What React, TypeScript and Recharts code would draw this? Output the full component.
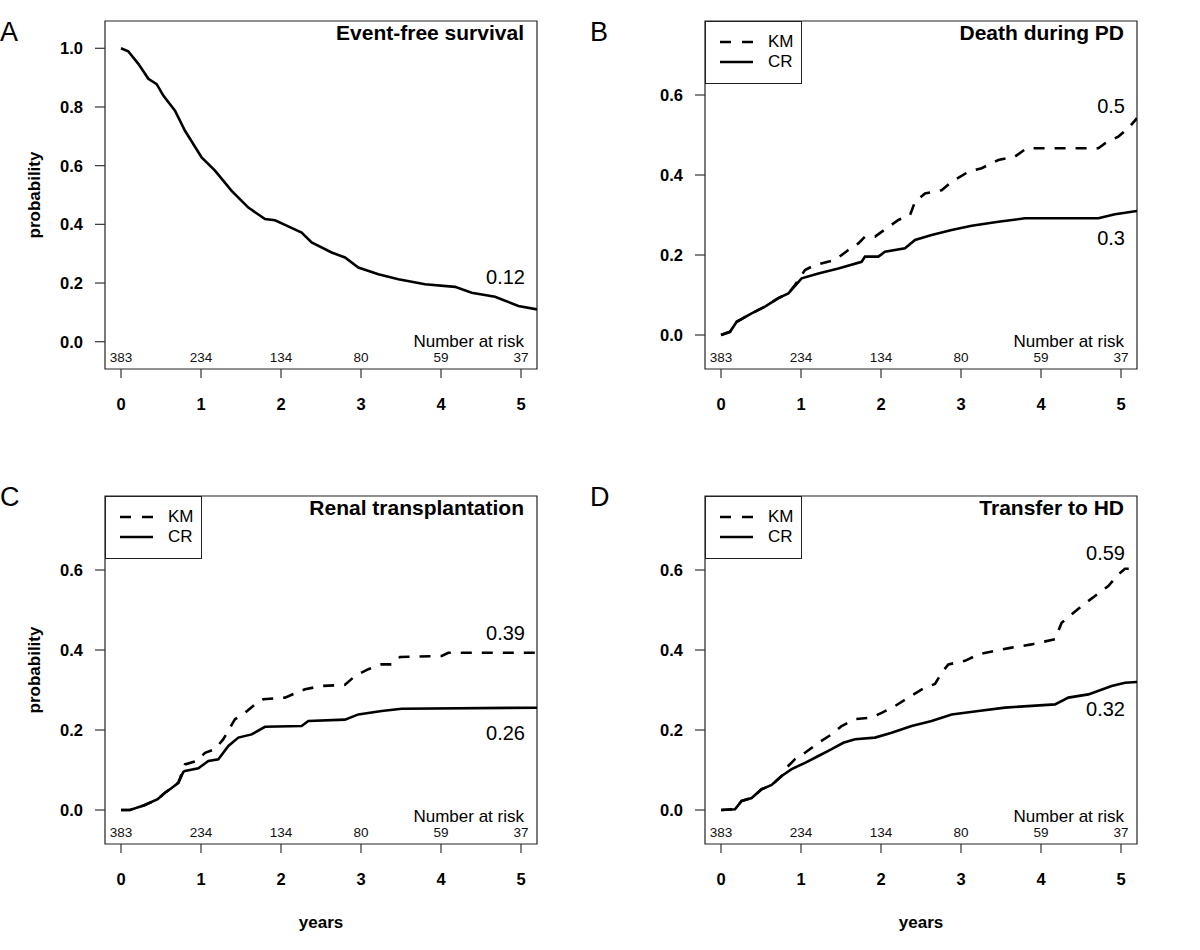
import React from "react";
import {
  LineChart,
  Line,
  XAxis,
  YAxis,
  ReferenceArea,
  ReferenceDot,
  Legend,
} from "recharts";

type Pt = [number, number];

// shared axis values
const YEARS = [0, 1, 2, 3, 4, 5];
const AT_RISK = [383, 234, 134, 80, 59, 37];
const PROB_TICKS = [0, 0.2, 0.4, 0.6, 0.8, 1.0];
const CIF_TICKS = [0, 0.2, 0.4, 0.6];

// A: event-free survival
const EFS: Pt[] = [
  [0, 1.0], [0.09, 0.99], [0.217, 0.947], [0.342, 0.896], [0.446, 0.878],
  [0.529, 0.839], [0.675, 0.787], [0.8, 0.719], [1.008, 0.628], [1.175, 0.583],
  [1.383, 0.514], [1.592, 0.457], [1.8, 0.418], [1.925, 0.414], [2.05, 0.398],
  [2.258, 0.372], [2.383, 0.338], [2.633, 0.304], [2.8, 0.287], [2.967, 0.253],
  [3.217, 0.23], [3.467, 0.213], [3.8, 0.196], [4.175, 0.187], [4.383, 0.167],
  [4.675, 0.153], [4.967, 0.122], [5.2, 0.11],
];

// B: death during PD
const DEATH_KM: Pt[] = [
  [0, 0], [0.113, 0.008], [0.196, 0.033], [0.383, 0.054], [0.55, 0.071],
  [0.717, 0.092], [0.842, 0.104], [0.925, 0.125], [1.05, 0.1625], [1.175, 0.175],
  [1.425, 0.1875], [1.592, 0.2125], [1.717, 0.229], [1.8, 0.246], [1.925, 0.246],
  [2.07, 0.267], [2.217, 0.2875], [2.363, 0.3], [2.425, 0.333], [2.55, 0.354],
  [2.758, 0.362], [2.883, 0.383], [3.092, 0.408], [3.258, 0.417], [3.467, 0.4375],
  [3.675, 0.446], [3.82, 0.467], [4.717, 0.467], [4.8, 0.479], [4.967, 0.496],
  [5.092, 0.517], [5.2, 0.542],
];
const DEATH_CR: Pt[] = [
  [0, 0], [0.113, 0.008], [0.196, 0.033], [0.383, 0.054], [0.55, 0.071],
  [0.717, 0.092], [0.842, 0.104], [1.008, 0.1417], [1.217, 0.154], [1.467, 0.166],
  [1.758, 0.183], [1.8, 0.196], [1.967, 0.196], [2.05, 0.208], [2.3, 0.217],
  [2.425, 0.2375], [2.633, 0.25], [2.883, 0.2625], [3.133, 0.273], [3.467, 0.283],
  [3.8, 0.2917], [4.717, 0.2917], [4.925, 0.302], [5.2, 0.31],
];

// C: renal transplantation
const RENAL_KM: Pt[] = [
  [0, 0], [0.1125, 0], [0.2917, 0.012], [0.4583, 0.027], [0.55, 0.043],
  [0.633, 0.055], [0.717, 0.068], [0.779, 0.102], [0.8, 0.114], [0.946, 0.1225],
  [1.05, 0.143], [1.175, 0.152], [1.279, 0.177], [1.425, 0.227], [1.55, 0.243],
  [1.675, 0.264], [1.779, 0.277], [2.05, 0.281], [2.3, 0.302], [2.508, 0.31],
  [2.8, 0.313], [2.925, 0.335], [3.092, 0.352], [3.258, 0.364], [3.383, 0.364],
  [3.488, 0.3825], [4.008, 0.385], [4.092, 0.393], [5.2, 0.393],
];
const RENAL_CR: Pt[] = [
  [0, 0], [0.1125, 0], [0.2917, 0.012], [0.4583, 0.027], [0.55, 0.043],
  [0.633, 0.055], [0.717, 0.068], [0.779, 0.095], [0.8, 0.0975], [0.967, 0.104],
  [1.092, 0.1225], [1.217, 0.127], [1.342, 0.16], [1.467, 0.181], [1.633, 0.189],
  [1.8, 0.208], [2.258, 0.21], [2.342, 0.2225], [2.8, 0.226], [2.967, 0.239],
  [3.258, 0.2475], [3.508, 0.253], [5.2, 0.2558],
];

// D: transfer to HD
const HD_KM: Pt[] = [
  [0, 0], [0.175, 0.002], [0.258, 0.0225], [0.383, 0.03], [0.508, 0.052],
  [0.633, 0.0625], [0.758, 0.085], [0.8, 0.102], [0.925, 0.127], [1.05, 0.143],
  [1.217, 0.168], [1.383, 0.189], [1.508, 0.21], [1.675, 0.227], [1.883, 0.231],
  [2.008, 0.243], [2.175, 0.26], [2.342, 0.281], [2.55, 0.306], [2.675, 0.315],
  [2.758, 0.343], [2.842, 0.364], [3.05, 0.373], [3.217, 0.389], [3.425, 0.398],
  [3.633, 0.406], [3.883, 0.414], [4.175, 0.427], [4.258, 0.468], [4.383, 0.489],
  [4.508, 0.51], [4.675, 0.535], [4.842, 0.56], [4.967, 0.589], [5.05, 0.603],
  [5.2, 0.603],
];
const HD_CR: Pt[] = [
  [0, 0], [0.175, 0.002], [0.258, 0.0225], [0.383, 0.03], [0.508, 0.052],
  [0.633, 0.0625], [0.758, 0.085], [0.883, 0.102], [1.05, 0.118], [1.217, 0.135],
  [1.383, 0.152], [1.529, 0.168], [1.675, 0.177], [1.925, 0.181], [2.133, 0.193],
  [2.383, 0.21], [2.633, 0.2225], [2.883, 0.239], [3.217, 0.2475], [3.55, 0.256],
  [4.175, 0.264], [4.342, 0.281], [4.592, 0.289], [4.883, 0.31], [5.05, 0.318],
  [5.2, 0.32],
];

const FONT = '"Liberation Sans", Arial, Helvetica, sans-serif';
const W = 600;
const H = 475;
const X_DOMAIN: [number, number] = [-0.2, 5.2];
const DASH = "11 10";

const toRows = (pts: Pt[]) => pts.map(([t, v]) => ({ t, v }));

interface Series {
  name: string;
  pts: Pt[];
  dashed: boolean;
}

interface Panel {
  letter: string;
  letterX: number;
  letterY: number;
  left: number;
  top: number;
  title: string;
  domain: [number, number];
  ticks: number[];
  riskY: number;
  series: Series[];
  ends: { text: string; y: number }[];
  yLabel: boolean;
  xLabel: boolean;
  legend: boolean;
}

const PANELS: Panel[] = [
  {
    letter: "A", letterX: 0, letterY: 41, left: 0, top: 0,
    title: "Event-free survival",
    domain: [-0.093, 1.093], ticks: PROB_TICKS, riskY: -0.053,
    series: [{ name: "EFS", pts: EFS, dashed: false }],
    ends: [{ text: "0.12", y: 284 }],
    yLabel: true, xLabel: false, legend: false,
  },
  {
    letter: "B", letterX: 590, letterY: 41, left: 600, top: 0,
    title: "Death during PD",
    domain: [-0.085, 0.785], ticks: CIF_TICKS, riskY: -0.056,
    series: [
      { name: "KM", pts: DEATH_KM, dashed: true },
      { name: "CR", pts: DEATH_CR, dashed: false },
    ],
    ends: [{ text: "0.5", y: 113 }, { text: "0.3", y: 245 }],
    yLabel: false, xLabel: false, legend: true,
  },
  {
    letter: "C", letterX: 0, letterY: 506, left: 0, top: 475,
    title: "Renal transplantation",
    domain: [-0.085, 0.785], ticks: CIF_TICKS, riskY: -0.056,
    series: [
      { name: "KM", pts: RENAL_KM, dashed: true },
      { name: "CR", pts: RENAL_CR, dashed: false },
    ],
    ends: [{ text: "0.39", y: 165 }, { text: "0.26", y: 265 }],
    yLabel: true, xLabel: true, legend: true,
  },
  {
    letter: "D", letterX: 590, letterY: 506, left: 600, top: 475,
    title: "Transfer to HD",
    domain: [-0.085, 0.785], ticks: CIF_TICKS, riskY: -0.056,
    series: [
      { name: "KM", pts: HD_KM, dashed: true },
      { name: "CR", pts: HD_CR, dashed: false },
    ],
    ends: [{ text: "0.59", y: 85 }, { text: "0.32", y: 241 }],
    yLabel: false, xLabel: true, legend: true,
  },
];

const LEGEND_ITEMS = [
  { name: "KM", dashed: true },
  { name: "CR", dashed: false },
];

const tickStyle = { fill: "#000", fontSize: 16.5, fontWeight: "bold", fontFamily: FONT };
const tickLine = { stroke: "#333", strokeWidth: 1.2 };

function LegendBox() {
  return (
    <div
      style={{
        width: 97,
        height: 63,
        border: "1px solid #222",
        boxSizing: "border-box",
        background: "#fff",
        position: "relative",
        fontFamily: FONT,
        color: "#000",
      }}
    >
      {LEGEND_ITEMS.map((it, i) => (
        <div
          key={it.name}
          style={{
            position: "absolute",
            left: -1,
            top: 9.7 + i * 20.6,
            height: 20,
            display: "flex",
            alignItems: "center",
          }}
        >
          <svg width={50} height={20}>
            <line
              x1={15}
              x2={48}
              y1={10}
              y2={10}
              stroke="#000"
              strokeWidth={2.6}
              strokeDasharray={it.dashed ? "11 11" : undefined}
            />
          </svg>
          <span style={{ marginLeft: 13, fontSize: 17, lineHeight: "20px" }}>{it.name}</span>
        </div>
      ))}
    </div>
  );
}

function SurvPanel({ p }: { p: Panel }) {
  return (
    <div style={{ position: "absolute", left: p.left, top: p.top, width: W, height: H }}>
      <LineChart width={W} height={H} margin={{ top: 21, right: 63, bottom: 56, left: 45 }}>
        <XAxis
          dataKey="t"
          type="number"
          domain={X_DOMAIN}
          ticks={YEARS}
          interval={0}
          allowDataOverflow
          axisLine={false}
          tickLine={tickLine}
          tickSize={9}
          tickMargin={20}
          height={50}
          tick={tickStyle}
        />
        <YAxis
          type="number"
          domain={p.domain}
          ticks={p.ticks}
          interval={0}
          allowDataOverflow
          width={60}
          axisLine={false}
          tickLine={tickLine}
          tickSize={10}
          tickMargin={12}
          tick={tickStyle}
          tickFormatter={(v: number) => v.toFixed(1)}
        />
        <ReferenceArea
          x1={X_DOMAIN[0]}
          x2={X_DOMAIN[1]}
          y1={p.domain[0]}
          y2={p.domain[1]}
          fill="none"
          fillOpacity={0}
          stroke="#222"
          strokeWidth={1.2}
          ifOverflow="visible"
        />
        {YEARS.map((t, i) => (
          <ReferenceDot
            key={t}
            x={t}
            y={p.riskY}
            r={0}
            fill="none"
            stroke="none"
            label={{
              value: String(AT_RISK[i]),
              position: "center",
              fontSize: 13.5,
              fill: "#111",
              fontFamily: FONT,
            }}
          />
        ))}
        {p.series.map((s) => (
          <Line
            key={s.name}
            name={s.name}
            data={toRows(s.pts)}
            dataKey="v"
            type="linear"
            stroke="#000"
            strokeWidth={2.6}
            strokeDasharray={s.dashed ? DASH : undefined}
            dot={false}
            activeDot={false}
            isAnimationActive={false}
          />
        ))}
        {p.legend && (
          <Legend
            layout="vertical"
            align="center"
            verticalAlign="middle"
            wrapperStyle={{ left: 105, top: 21, width: 97, height: 63 }}
            content={() => <LegendBox />}
          />
        )}
      </LineChart>
    </div>
  );
}

function Annotations() {
  return (
    <svg
      width={1200}
      height={950}
      style={{ position: "absolute", left: 0, top: 0, pointerEvents: "none" }}
      fontFamily={FONT}
    >
      {PANELS.map((p) => {
        const L = p.left;
        const T = p.top;
        return (
          <g key={p.letter}>
            <text x={p.letterX} y={p.letterY} fontSize={27}>{p.letter}</text>
            <text x={L + 524} y={T + 40} fontSize={21} fontWeight="bold" textAnchor="end">
              {p.title}
            </text>
            <text x={L + 524} y={T + 347} fontSize={17} textAnchor="end">Number at risk</text>
            {p.ends.map((e) => (
              <text key={e.text} x={L + 525} y={T + e.y} fontSize={20} textAnchor="end">
                {e.text}
              </text>
            ))}
            {p.yLabel && (
              <text
                x={L + 40}
                y={T + 195}
                fontSize={17}
                fontWeight="bold"
                textAnchor="middle"
                transform={`rotate(-90 ${L + 40} ${T + 195})`}
              >
                probability
              </text>
            )}
            {p.xLabel && (
              <text x={L + 321} y={T + 453} fontSize={17} fontWeight="bold" textAnchor="middle">
                years
              </text>
            )}
          </g>
        );
      })}
    </svg>
  );
}

export default function App() {
  return (
    <div
      style={{
        position: "absolute",
        left: 0,
        top: 0,
        width: 1200,
        height: 950,
        background: "#fff",
        fontFamily: FONT,
      }}
    >
      {PANELS.map((p) => (
        <SurvPanel key={p.letter} p={p} />
      ))}
      <Annotations />
    </div>
  );
}
